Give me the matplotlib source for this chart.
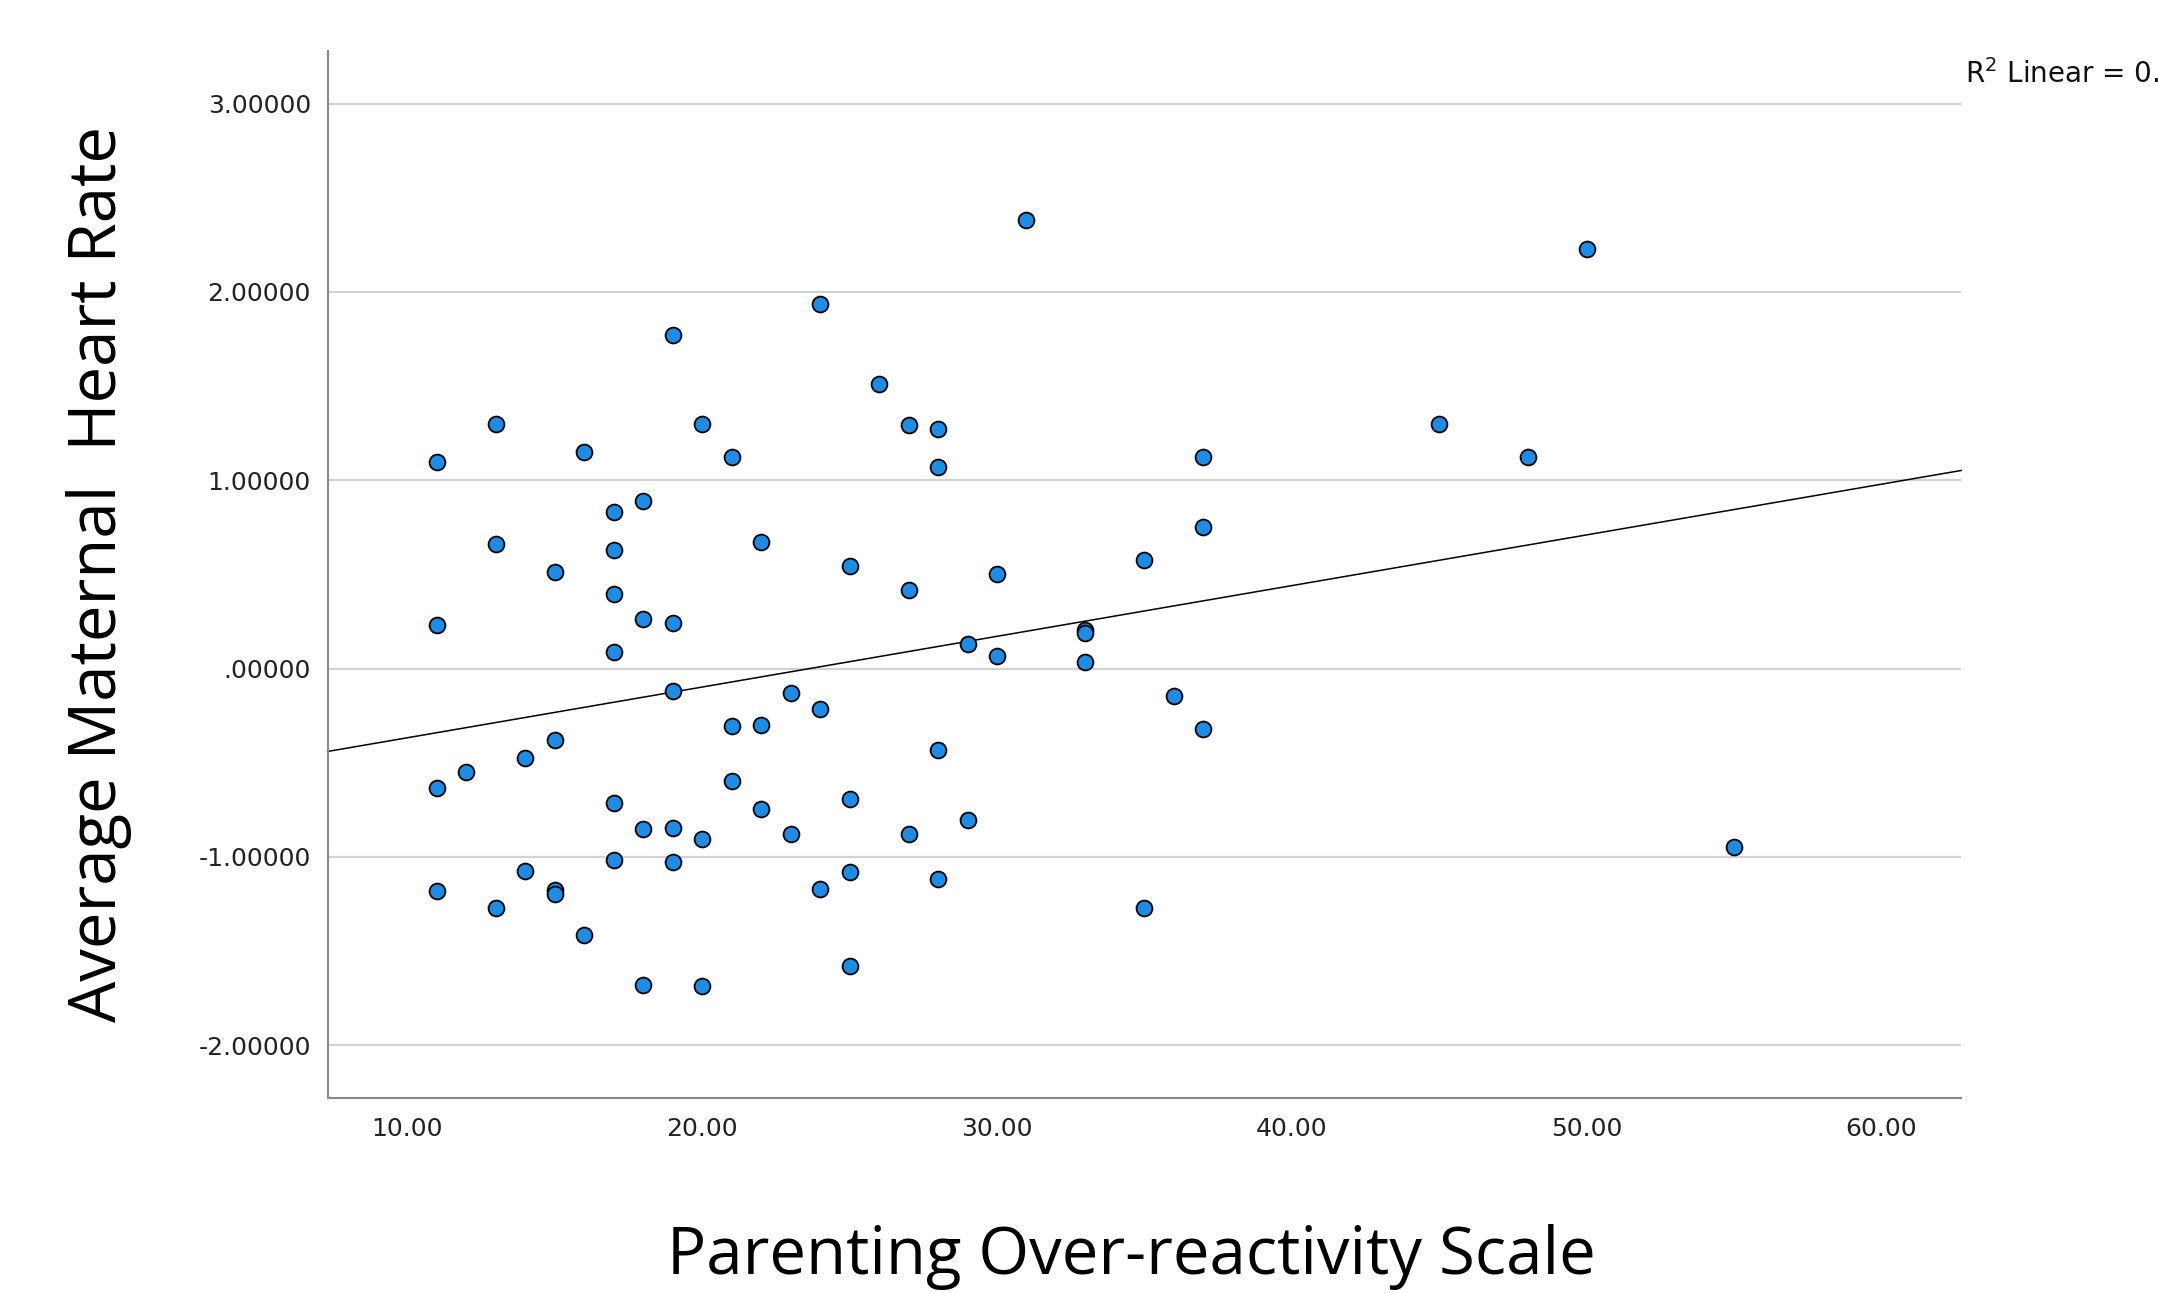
import matplotlib
matplotlib.use('Agg')
import matplotlib.pyplot as plt
import numpy as np

# parenting over-reactivity score (x) vs average maternal heart rate (z, y)
por_score = [11, 11, 11, 11, 12, 13, 13, 13, 14, 14,
             15, 15, 15, 15, 16, 16, 17, 17, 17, 17,
             17, 17, 18, 18, 18, 18, 19, 19, 19, 19,
             19, 20, 20, 20, 21, 21, 21, 22, 22, 22,
             23, 23, 24, 24, 24, 25, 25, 25, 25, 26,
             27, 27, 27, 28, 28, 28, 28, 29, 29, 30,
             30, 31, 33, 33, 33, 35, 35, 36, 37, 37,
             37, 45, 48, 50, 55]
heart_rate = [1.095, 0.234, -0.635, -1.180, -0.547, 1.300, 0.664, -1.270, -0.474, -1.073,
              0.511, -0.380, -1.175, -1.197, 1.153, -1.416, 0.832, 0.628, 0.394, 0.088,
              -0.715, -1.015, 0.890, 0.263, -0.854, -1.679, 1.774, 0.241, -0.117, -0.847,
              -1.029, 1.300, -0.905, -1.686, 1.124, -0.307, -0.599, 0.672, -0.299, -0.745,
              -0.131, -0.876, 1.934, -0.212, -1.168, 0.547, -0.693, -1.080, -1.577, 1.511,
              1.292, 0.416, -0.876, 1.270, 1.073, -0.431, -1.117, 0.131, -0.803, 0.504,
              0.066, 2.380, 0.205, 0.190, 0.036, 0.577, -1.270, -0.146, 1.124, 0.752,
              -0.321, 1.300, 1.124, 2.226, -0.949]

x_ticks = [10, 20, 30, 40, 50, 60]
x_ticklabels = ["10.00", "20.00", "30.00", "40.00", "50.00", "60.00"]
y_ticks = [-2, -1, 0, 1, 2, 3]
y_ticklabels = ["-2.00000", "-1.00000", ".00000", "1.00000", "2.00000", "3.00000"]

POINT = "#1c8de6"
GRID = "#d2d2d2"
SPINE = "#8a8a8a"
LABEL_FONT = ["Open Sans", "DejaVu Sans"]

x = np.array(por_score, dtype=float)
y = np.array(heart_rate)
slope, intercept = np.polyfit(x, y, 1)
r2 = np.corrcoef(x, y)[0, 1] ** 2
print(f"fit: y = {intercept:.3f} + {slope:.4f} x, R2 = {r2:.3f}")

fig = plt.figure(figsize=(21.58, 12.93), dpi=100, facecolor="white")
ax = fig.add_axes([0.1518, 0.1508, 0.757, 0.8098])

ax.set_xlim(7.29, 62.71)
ax.set_ylim(-2.28, 3.28)

ax.set_yticks(y_ticks)
ax.set_yticklabels(y_ticklabels)
ax.set_xticks(x_ticks)
ax.set_xticklabels(x_ticklabels)
ax.tick_params(length=0, labelsize=18, labelcolor="#222222")
ax.tick_params(axis="y", pad=12)
ax.tick_params(axis="x", pad=14)

ax.grid(axis="y", color=GRID, linewidth=1.6, zorder=0)
ax.set_axisbelow(True)
for side in ("top", "right"):
    ax.spines[side].set_visible(False)
for side in ("left", "bottom"):
    ax.spines[side].set_color(SPINE)
    ax.spines[side].set_linewidth(1.5)

xs = np.array(ax.get_xlim())
ax.plot(xs, intercept + slope * xs, color="black", linewidth=1.1, zorder=2,
        clip_on=False)

ax.scatter(x, y, s=130, color=POINT, edgecolor="black", linewidth=1.3,
           zorder=3, clip_on=False)

ax.set_xlabel("Parenting Over-reactivity Scale", fontsize=47,
              family=LABEL_FONT, va="center")
ax.xaxis.set_label_coords(0.492, -0.152)
ax.set_ylabel("Average Maternal  Heart Rate", fontsize=47,
              family=LABEL_FONT, va="center")
ax.yaxis.set_label_coords(-0.14, 0.5)

fig.text(0.9106, 0.9425, f"R$^2$ Linear = {r2:.3f}", fontsize=20,
         va="center", ha="left", color="#111111")

fig.savefig("out.png", dpi=100, facecolor="white")
